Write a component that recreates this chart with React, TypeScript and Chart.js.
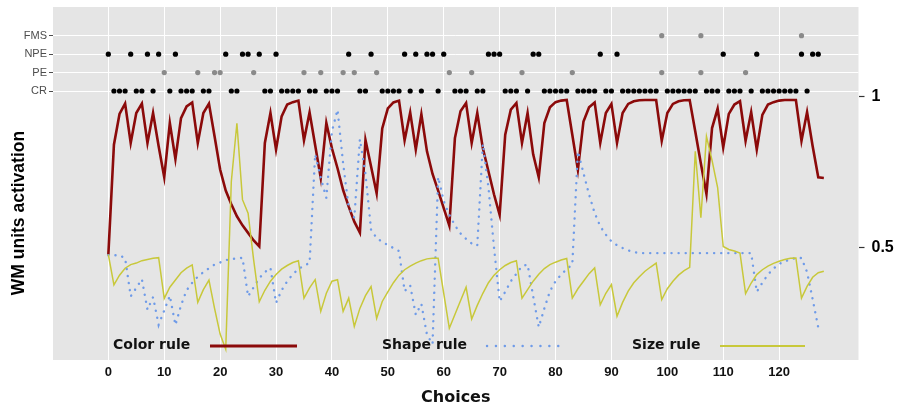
import React, { useEffect, useRef } from "react";
import { Chart, registerables } from "chart.js";

Chart.register(...registerables);

// ---------- data ----------
const TRIALS: number[] = Array.from({ length: 129 }, (_, i) => i);
const X_TICKS = [0, 10, 20, 30, 40, 50, 60, 70, 80, 90, 100, 110, 120];
const Y_TICKS = [0.5, 1];
const ROW_LABELS = ["CR", "PE", "NPE", "FMS"]; // rows 1..4 on the left axis

const COLOR_RULE = [
  0.478, 0.842, 0.944, 0.978, 0.848, 0.947, 0.978, 0.848, 0.947, 0.837,
  0.734, 0.914, 0.795, 0.93, 0.969, 0.982, 0.848, 0.947, 0.978, 0.87,
  0.76, 0.69, 0.645, 0.605, 0.575, 0.55, 0.525, 0.505, 0.848, 0.947,
  0.826, 0.936, 0.975, 0.983, 0.988, 0.857, 0.949, 0.84, 0.732, 0.914,
  0.83, 0.764, 0.692, 0.637, 0.587, 0.551, 0.858, 0.77, 0.681, 0.896,
  0.962, 0.982, 0.988, 0.857, 0.949, 0.826, 0.943, 0.82, 0.745, 0.69,
  0.632, 0.574, 0.864, 0.953, 0.98, 0.848, 0.947, 0.83, 0.754, 0.677,
  0.61, 0.875, 0.958, 0.98, 0.848, 0.947, 0.81, 0.734, 0.914, 0.966,
  0.983, 0.988, 0.99, 0.875, 0.759, 0.919, 0.966, 0.982, 0.848, 0.947,
  0.977, 0.848, 0.947, 0.977, 0.986, 0.989, 0.99, 0.99, 0.99, 0.855,
  0.947, 0.977, 0.986, 0.989, 0.99, 0.886, 0.78, 0.679, 0.897, 0.961,
  0.833, 0.944, 0.975, 0.986, 0.855, 0.95, 0.826, 0.941, 0.975, 0.983,
  0.988, 0.99, 0.99, 0.99, 0.855, 0.95, 0.837, 0.734, 0.732,
];

const SHAPE_RULE = [
  0.476, 0.476, 0.476, 0.466, 0.34, 0.368, 0.397, 0.296, 0.337, 0.246,
  0.293, 0.342, 0.245, 0.31, 0.36, 0.385, 0.405, 0.42, 0.433, 0.445,
  0.452, 0.46, 0.463, 0.466, 0.467, 0.34, 0.37, 0.4, 0.42, 0.434,
  0.318, 0.36, 0.39, 0.413, 0.43, 0.442, 0.45, 0.81, 0.732, 0.666,
  0.886, 0.958, 0.78, 0.635, 0.6, 0.86, 0.745, 0.56, 0.533, 0.52,
  0.51, 0.5, 0.49, 0.357, 0.376, 0.279, 0.315, 0.213, 0.182, 0.735,
  0.655, 0.61, 0.575, 0.548, 0.53, 0.515, 0.508, 0.845, 0.7, 0.5,
  0.323, 0.355, 0.39, 0.415, 0.44, 0.445, 0.34, 0.238, 0.3, 0.357,
  0.39, 0.412, 0.43, 0.445, 0.82, 0.748, 0.677, 0.616, 0.572, 0.544,
  0.522, 0.509, 0.5, 0.492, 0.487, 0.483, 0.483, 0.483, 0.483, 0.483,
  0.483, 0.483, 0.483, 0.483, 0.483, 0.483, 0.483, 0.483, 0.483, 0.483,
  0.483, 0.483, 0.483, 0.483, 0.483, 0.483, 0.355, 0.385, 0.412, 0.432,
  0.447, 0.456, 0.462, 0.467, 0.467, 0.42, 0.33, 0.237, 0.237,
];

const SIZE_RULE = [
  0.478, 0.378, 0.41, 0.433, 0.445, 0.45, 0.458, 0.462, 0.466, 0.468,
  0.333, 0.37, 0.394, 0.418, 0.433, 0.444, 0.32, 0.362, 0.394, 0.3,
  0.215, 0.165, 0.72, 0.913, 0.66, 0.615, 0.46, 0.322, 0.36, 0.39,
  0.412, 0.43, 0.442, 0.452, 0.458, 0.334, 0.368, 0.395, 0.29, 0.35,
  0.39, 0.395, 0.29, 0.334, 0.24, 0.3, 0.342, 0.372, 0.267, 0.323,
  0.355, 0.385, 0.41, 0.428, 0.44, 0.45, 0.458, 0.464, 0.466, 0.466,
  0.35, 0.234, 0.28, 0.325, 0.37, 0.265, 0.31, 0.35, 0.385, 0.41,
  0.428, 0.442, 0.452, 0.458, 0.334, 0.362, 0.39, 0.413, 0.432, 0.445,
  0.453, 0.46, 0.465, 0.334, 0.365, 0.39, 0.415, 0.434, 0.312, 0.35,
  0.379, 0.274, 0.32, 0.357, 0.385, 0.405, 0.423, 0.437, 0.45, 0.329,
  0.365, 0.39, 0.41, 0.425, 0.436, 0.82, 0.6, 0.87, 0.79, 0.7,
  0.505, 0.495, 0.49, 0.483, 0.349, 0.384, 0.412, 0.428, 0.44, 0.449,
  0.456, 0.462, 0.466, 0.467, 0.334, 0.373, 0.403, 0.418, 0.423,
];

const CR_TRIALS = [
  1, 2, 3, 5, 6, 8, 11, 13, 14, 15, 17, 18, 22, 23, 28, 29, 31, 32, 33, 34,
  36, 37, 39, 40, 41, 45, 46, 49, 50, 51, 52, 54, 56, 59, 62, 63, 64, 66, 67,
  71, 72, 73, 75, 78, 79, 80, 81, 82, 84, 85, 86, 87, 89, 90, 92, 93, 94, 95,
  96, 97, 98, 100, 101, 102, 103, 104, 105, 107, 108, 109, 111, 112, 113, 115,
  117, 118, 119, 120, 121, 122, 123, 125,
];
const PE_TRIALS = [10, 16, 19, 20, 26, 35, 38, 42, 44, 48, 61, 65, 74, 83, 99, 106, 114];
const NPE_TRIALS = [
  0, 4, 7, 9, 12, 21, 24, 25, 27, 30, 43, 47, 53, 55, 57, 58, 60, 68, 69, 70,
  76, 77, 88, 91, 110, 116, 124, 126, 127,
];
const FMS_TRIALS = [99, 106, 124];

// ---------- styles ----------
const RED = "#8b0a0a";
const BLUE = "#6f9be8";
const YELLOW = "#c8c83a";
const PANEL = "#e5e5e5";

const line = (vals: number[]) => vals.map((v, i) => ({ x: TRIALS[i], y: v }));
const dots = (trials: number[], row: number) => trials.map((t) => ({ x: t, y: row }));

const noPad = (s: any) => {
  s.paddingTop = 0;
  s.paddingBottom = 0;
  s.paddingLeft = 0;
  s.paddingRight = 0;
};

const panelBg = {
  id: "panelBg",
  beforeDraw(chart: any) {
    const { ctx, chartArea: a } = chart;
    ctx.save();
    ctx.fillStyle = PANEL;
    ctx.fillRect(a.left, a.top, a.right - a.left, a.bottom - a.top);
    ctx.restore();
  },
};

const overlay = {
  id: "overlay",
  afterDraw(chart: any) {
    const { ctx, chartArea: a } = chart;
    ctx.save();
    const ly = a.bottom - 15;
    const items = [
      { text: "Color rule", tx: 60, x0: 157, x1: 244, color: RED, w: 3, dash: [] as number[], cap: "butt" },
      { text: "Shape rule", tx: 329, x0: 434, x1: 513, color: BLUE, w: 2.4, dash: [0.1, 8.8], cap: "round" },
      { text: "Size rule", tx: 579, x0: 667, x1: 752, color: YELLOW, w: 2, dash: [] as number[], cap: "butt" },
    ];
    ctx.font = "bold 14px 'DejaVu Sans'";
    ctx.textBaseline = "middle";
    ctx.textAlign = "left";
    for (const it of items) {
      ctx.fillStyle = "#111";
      ctx.fillText(it.text, a.left + it.tx, ly);
      ctx.beginPath();
      ctx.strokeStyle = it.color;
      ctx.lineWidth = it.w;
      ctx.lineCap = it.cap as CanvasLineCap;
      ctx.setLineDash(it.dash);
      ctx.moveTo(a.left + it.x0, ly + 1);
      ctx.lineTo(a.left + it.x1, ly + 1);
      ctx.stroke();
    }
    ctx.setLineDash([]);
    ctx.translate(19, 213);
    ctx.rotate(-Math.PI / 2);
    ctx.font = "bold 17.5px 'Liberation Sans'";
    ctx.textAlign = "center";
    ctx.fillStyle = "#000";
    ctx.fillText("WM units activation", 0, 0);
    ctx.restore();
  },
};

export default function App() {
  const ref = useRef<HTMLCanvasElement | null>(null);

  useEffect(() => {
    if (!ref.current) return;
    const dotStyle = (color: string) => ({
      type: "scatter" as const,
      yAxisID: "yl",
      showLine: false,
      pointRadius: 2.6,
      pointBackgroundColor: color,
      pointBorderWidth: 0,
      order: 0,
    });
    const chart = new Chart(ref.current, {
      type: "line",
      data: {
        datasets: [
          { label: "Color rule", data: line(COLOR_RULE), borderColor: RED, borderWidth: 2.6, pointRadius: 0, tension: 0, order: 3, yAxisID: "y" },
          { label: "Shape rule", data: line(SHAPE_RULE), borderColor: BLUE, borderWidth: 2.4, borderDash: [0.1, 7], borderCapStyle: "round", pointRadius: 0, tension: 0, order: 2, yAxisID: "y" },
          { label: "Size rule", data: line(SIZE_RULE), borderColor: YELLOW, borderWidth: 1.5, pointRadius: 0, tension: 0, order: 1, yAxisID: "y" },
          { label: "CR", data: dots(CR_TRIALS, 1), ...dotStyle("#000") },
          { label: "PE", data: dots(PE_TRIALS, 2), ...dotStyle("#8a8a8a") },
          { label: "NPE", data: dots(NPE_TRIALS, 3), ...dotStyle("#000") },
          { label: "FMS", data: dots(FMS_TRIALS, 4), ...dotStyle("#8a8a8a") },
        ] as any,
      },
      options: {
        animation: false,
        responsive: false,
        layout: { padding: { top: 7, left: 0, right: 0, bottom: 0 } },
        plugins: { legend: { display: false }, tooltip: { enabled: false } },
        scales: {
          x: {
            type: "linear",
            min: -9.9,
            max: 134.2,
            afterBuildTicks: (s: any) => { s.ticks = X_TICKS.map((v) => ({ value: v })); },
            afterFit: (s: any) => { s.height = 49; noPad(s); },
            ticks: { color: "#111", font: { family: "'Liberation Sans'", size: 13, weight: "bold" }, padding: 5, maxRotation: 0, autoSkip: false },
            grid: { color: "#ffffff", lineWidth: 1, drawTicks: false },
            border: { display: false },
            title: { display: true, text: "Choices", color: "#111", font: { family: "'DejaVu Sans'", size: 16, weight: "bold" }, padding: { top: 0, bottom: 2 } },
          },
          y: {
            type: "linear",
            position: "right",
            min: 0.1291,
            max: 1.298,
            afterBuildTicks: (s: any) => { s.ticks = Y_TICKS.map((v) => ({ value: v })); },
            afterFit: (s: any) => { s.width = 45.5; noPad(s); },
            ticks: { color: "#000", font: { family: "'Liberation Sans'", size: 16, weight: "bold" }, padding: 7, callback: (v: any) => String(v) },
            grid: { drawOnChartArea: false, tickColor: "#333", tickLength: 6, tickWidth: 1.2 },
            border: { display: false },
          },
          yl: {
            type: "linear",
            position: "left",
            min: -13.596,
            max: 5.558,
            afterBuildTicks: (s: any) => { s.ticks = [1, 2, 3, 4].map((v) => ({ value: v })); },
            afterFit: (s: any) => { s.width = 53; noPad(s); },
            ticks: { color: "#4d4d4d", font: { family: "'Liberation Sans'", size: 11 }, padding: 2, callback: (v: any) => ROW_LABELS[Number(v) - 1] },
            grid: { color: "#ffffff", lineWidth: 1, tickColor: "#4d4d4d", tickLength: 4 },
            border: { display: false },
          },
        },
      } as any,
      plugins: [panelBg, overlay],
    });
    return () => chart.destroy();
  }, []);

  return (
    <div style={{ position: "absolute", left: 0, top: 0, width: 904, height: 409, background: "#fff" }}>
      <canvas ref={ref} width={904} height={409} style={{ display: "block" }} />
    </div>
  );
}
